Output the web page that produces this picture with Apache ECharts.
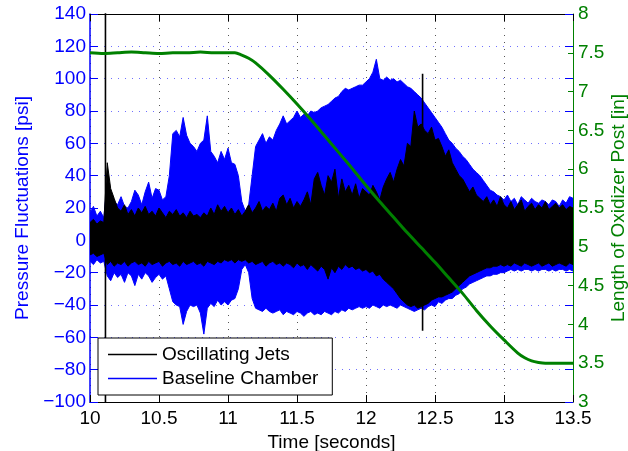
<!DOCTYPE html>
<html><head><meta charset="utf-8">
<script src="https://cdn.jsdelivr.net/npm/echarts@6/dist/echarts.min.js"></script>
<style>html,body{margin:0;padding:0;background:#fff}#c{width:628px;height:451px}</style>
</head><body><div id="c"></div>
<script>
// sample grid of the envelope readings (seconds)
const sampleStart = 10, sampleStep = 0.025;

// Baseline Chamber (blue) envelope, psi
const baselineUpper = [17,21,15,18,14,
 36,30,24,22,27,21,20,24,31,28,22,30,36,26,32,31,25,27,40,66,
 68,64,76,65,60,58,55,60,62,77,55,52,48,55,50,57,48,47,40,24,
 18,22,40,58,62,66,60,64,62,68,72,77,72,74,76,80,76,78,77,80,
 79,80,82,83,84,86,88,89,92,94,93,94,95,96,96,98,100,104,112,100,
 99,101,99,100,98,99,97,95,94,92,90,88,85,82,79,76,73,70,66,62,
 60,57,55,52,50,47,44,42,40,37,34,31,30,28,27,25,28,24,26,22,
 27,25,23,26,24,23,25,24,22,25,24,21,25,23,27,26];
const baselineLower = [-13,-15,-12,-14,-13,
 -22,-25,-20,-23,-21,-26,-20,-22,-28,-21,-24,-20,-22,-26,-23,-21,-24,-22,-30,-38,
 -40,-41,-52,-44,-40,-41,-40,-45,-58,-42,-39,-41,-37,-40,-38,-40,-37,-36,-30,-18,
 -15,-20,-36,-42,-43,-44,-42,-44,-45,-44,-43,-46,-44,-45,-46,-44,-45,-47,-45,-44,
 -46,-45,-46,-44,-45,-46,-44,-45,-43,-44,-42,-43,-42,-41,-42,-41,-42,-40,-41,-42,
 -40,-41,-40,-41,-42,-40,-41,-42,-43,-44,-43,-42,-43,-41,-40,-41,-38,-39,-37,-36,
 -36,-34,-33,-30,-29,-27,-26,-25,-24,-23,-22,-22,-21,-21,-20,-20,-19,-18,-19,-18,
 -19,-18,-18,-19,-18,-19,-18,-18,-19,-18,-19,-18,-18,-19,-18,-19];

// Oscillating Jets (black) envelope, psi
const jetsUpper = [11,13,10,12,11,
 48,32,26,20,18,22,16,19,15,20,17,21,16,18,15,20,17,14,18,16,
 19,15,17,14,18,15,16,14,17,15,20,16,22,18,21,17,20,16,19,15,
 18,22,17,20,24,18,21,19,23,18,26,28,22,26,20,24,21,25,30,22,
 38,42,34,28,40,36,44,26,38,30,34,28,35,26,32,30,28,34,30,25,
 33,38,42,36,44,50,46,60,58,80,70,72,68,66,70,62,63,58,52,56,
 48,44,40,38,34,30,33,28,26,24,27,22,25,21,27,22,20,24,19,22,
 25,18,21,23,19,22,20,24,19,21,23,20,22,19,21,20];
const jetsLower = [-9,-8,-10,-9,-8,
 -15,-13,-16,-14,-15,-13,-16,-14,-13,-15,-14,-16,-13,-15,-14,-13,-16,-14,-13,-15,
 -14,-16,-13,-15,-14,-13,-15,-14,-16,-13,-14,-15,-13,-14,-12,-13,-12,-14,-12,-13,
 -12,-14,-13,-15,-14,-13,-16,-14,-13,-15,-14,-16,-14,-15,-17,-14,-16,-15,-18,-15,
 -17,-19,-16,-18,-24,-17,-20,-16,-18,-15,-17,-16,-18,-17,-19,-18,-20,-19,-22,-21,
 -24,-26,-28,-30,-33,-36,-38,-40,-41,-40,-42,-41,-40,-39,-37,-36,-35,-35,-34,-33,
 -32,-30,-28,-26,-24,-22,-21,-20,-19,-18,-17,-17,-16,-16,-15,-16,-15,-16,-14,-15,
 -16,-14,-15,-16,-15,-14,-16,-15,-14,-16,-15,-14,-15,-16,-14,-15];

// isolated spikes of the jets signal
const spikeTimes = [10.112, 12.41];
const spikeTop = [150, 103];
const spikeBottom = [-100, -56];

// Length of oxidizer post (green), inches
const postTimes = [10.0,10.1,10.2,10.3,10.4,10.5,10.6,10.7,10.8,10.9,11.0,11.05,11.1,11.15,11.2,11.3,11.4,11.5,11.6,11.7,11.8,11.9,12.0,12.1,12.2,12.3,12.4,12.5,12.6,12.7,12.8,12.9,13.0,13.1,13.15,13.2,13.25,13.3,13.4,13.5];
const postLength = [7.5,7.49,7.5,7.51,7.5,7.49,7.5,7.5,7.51,7.5,7.5,7.5,7.47,7.43,7.37,7.21,7.03,6.84,6.64,6.43,6.22,6.01,5.79,5.58,5.38,5.18,4.99,4.8,4.6,4.4,4.18,3.98,3.8,3.63,3.57,3.53,3.51,3.5,3.5,3.5];

const xTickLabels = ['10','10.5','11','11.5','12','12.5','13','13.5'];
const leftTickLabels = ['\u2212100','\u221280','\u221260','\u221240','\u221220','0','20','40','60','80','100','120','140'];
const rightTickLabels = ['3','3.5','4','4.5','5','5.5','6','6.5','7','7.5','8'];

const FONT = 'Liberation Sans, Arial, Helvetica, sans-serif';
const BLUE = '#0000ff', GREEN = '#008000', BLACK = '#000000';

const times = baselineUpper.map((_, i) => +(sampleStart + i * sampleStep).toFixed(3));

// filled envelope drawn as one polygon through the axis scales
function band(name, color, upper, lower, z) {
  return {
    name, type: 'custom', color, z, clip: true,
    itemStyle: { color },
    encode: { x: 0, y: [1, 2] },
    data: times.map((t, i) => [t, upper[i], lower[i]]),
    renderItem: function (params, api) {
      if (params.dataIndex !== 0) return null;
      const pts = [];
      for (let i = 0; i < times.length; i++) pts.push(api.coord([times[i], upper[i]]));
      for (let i = times.length - 1; i >= 0; i--) pts.push(api.coord([times[i], lower[i]]));
      return {
        type: 'polygon',
        shape: { points: pts },
        style: { fill: color, stroke: color, lineWidth: 1 }
      };
    }
  };
}

const series = [
  band('Baseline Chamber', BLUE, baselineUpper, baselineLower, 2),
  band('Oscillating Jets', BLACK, jetsUpper, jetsLower, 3),
  ...spikeTimes.map((t, i) => ({ type: 'line', symbol: 'none', z: 3, color: BLACK,
      data: [[t, spikeTop[i]], [t, spikeBottom[i]]], lineStyle: { color: BLACK, width: 1.6 } })),
  { name: 'Length of Oxidizer Post', type: 'line', yAxisIndex: 1, symbol: 'none', z: 4,
    color: GREEN, smooth: 0.3,
    data: postTimes.map((t, i) => [t, postLength[i]]),
    lineStyle: { color: GREEN, width: 3 } }
];

const chart = echarts.init(document.getElementById('c'), null, { renderer: 'canvas' });
chart.setOption({
  animation: false,
  backgroundColor: '#fff',
  grid: { left: 90, right: 55, top: 14, bottom: 49, outerBoundsMode: 'none', containLabel: false },
  legend: {
    data: ['Oscillating Jets', 'Baseline Chamber'],
    left: 98, top: 338, orient: 'vertical',
    backgroundColor: '#fff', borderColor: '#000', borderWidth: 1,
    padding: [6, 14, 6, 10], itemGap: 3, itemWidth: 49, itemHeight: 1.5, icon: 'rect',
    textStyle: { fontFamily: FONT, fontSize: 19, color: '#000', lineHeight: 21 },
    z: 20
  },
  xAxis: [
    { type: 'value', min: 10, max: 13.5, interval: 0.5,
      name: 'Time [seconds]', nameLocation: 'middle', nameGap: 27,
      nameTextStyle: { fontFamily: FONT, fontSize: 19, color: '#000' },
      axisLine: { show: true, onZero: false, lineStyle: { color: '#000', width: 1 } },
      axisTick: { show: true, inside: true, length: 7, lineStyle: { color: '#000' } },
      axisLabel: { fontFamily: FONT, fontSize: 19, color: '#000', margin: 7,
        formatter: v => xTickLabels[Math.round((v - 10) / 0.5)] },
      splitLine: { show: true, lineStyle: { color: '#555', width: 1, type: [1, 6] } } },
    { type: 'value', min: 10, max: 13.5, interval: 0.5, position: 'top',
      axisLine: { show: true, onZero: false, lineStyle: { color: '#000', width: 1 } },
      axisTick: { show: true, inside: true, length: 7, lineStyle: { color: '#000' } },
      axisLabel: { show: false }, splitLine: { show: false } }
  ],
  yAxis: [
    { type: 'value', min: -100, max: 140, interval: 20, position: 'left',
      name: 'Pressure Fluctuations [psi]', nameLocation: 'middle', nameGap: 56, nameRotate: 90,
      nameTextStyle: { fontFamily: FONT, fontSize: 19, color: BLUE },
      axisLine: { show: true, onZero: false, lineStyle: { color: BLUE, width: 1.5 } },
      axisTick: { show: true, inside: true, length: 8, lineStyle: { color: BLUE } },
      axisLabel: { fontFamily: FONT, fontSize: 19, color: BLUE, margin: 4,
        formatter: v => leftTickLabels[Math.round((v + 100) / 20)] },
      splitLine: { show: true, lineStyle: { color: '#7070ff', width: 1, type: [1, 6] } } },
    { type: 'value', min: 3, max: 8, interval: 0.5, position: 'right',
      name: 'Length of Oxidizer Post [in]', nameLocation: 'middle', nameGap: 36, nameRotate: 90,
      nameMoveOverlap: false,
      nameTextStyle: { fontFamily: FONT, fontSize: 19, color: GREEN },
      axisLine: { show: true, onZero: false, lineStyle: { color: GREEN, width: 1 } },
      axisTick: { show: true, inside: true, length: 5, lineStyle: { color: GREEN } },
      axisLabel: { fontFamily: FONT, fontSize: 19, color: GREEN, margin: 5,
        formatter: v => rightTickLabels[Math.round((v - 3) / 0.5)] },
      splitLine: { show: false } },
    { type: 'value', min: -100, max: 140, interval: 20, position: 'right',
      axisLine: { show: false },
      axisTick: { show: true, inside: true, length: 8, lineStyle: { color: BLUE } },
      axisLabel: { show: false }, splitLine: { show: false } }
  ],
  series
});
</script></body></html>
